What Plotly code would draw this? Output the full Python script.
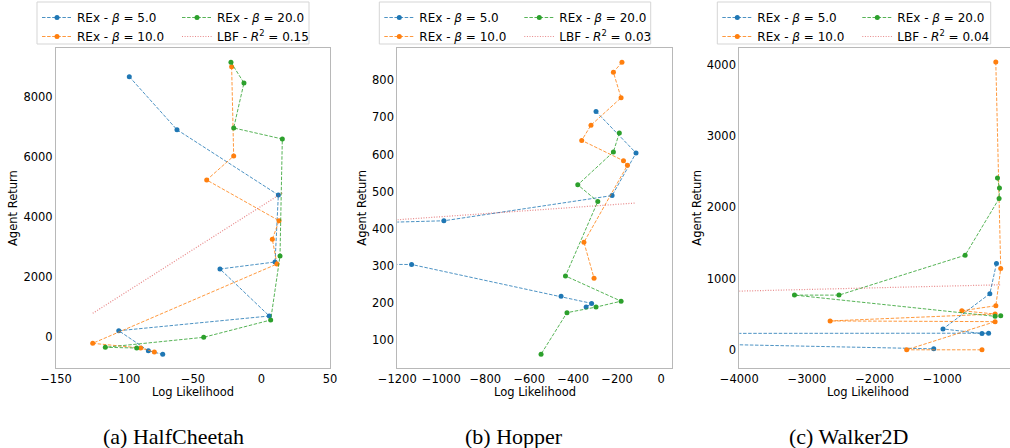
import plotly.graph_objects as go

# ---------------- data ----------------
# (a) HalfCheetah
hc_b5_x = [-96.5, -61.7, 12.3, 9.9, -30.3, 5.7, -104.2, -82.6, -72.1]
hc_b5_y = [8667, 6900, 4723, 2490, 2257, 690, 200, -467, -587]
hc_b10_x = [-21.8, -20.3, -40.0, 12.8, 7.9, 11.3, -123.2, -88.2, -78.2]
hc_b10_y = [9000, 6023, 5223, 3867, 3247, 2423, -220, -377, -510]
hc_b20_x = [-22.3, -12.8, -20.3, 15.2, 13.5, 6.7, -42.2, -114.0, -91.1]
hc_b20_y = [9147, 8457, 6957, 6590, 2690, 557, -20, -353, -377]
hc_lbf_x = [-123.2, 15.4]
hc_lbf_y = [780, 4800]
hc_r2 = "0.15"

# (b) Hopper
hp_b5_x = [-296, -114, -223, -988, -1600, -1600, -1135, -455, -316, -341]
hp_b5_y = [716, 604, 489, 421, 411, 304, 303, 217, 198, 188]
hp_b10_x = [-178, -217, -182, -319, -361, -171, -153, -351, -305]
hp_b10_y = [849, 822, 753, 679, 638, 583, 571, 363, 266]
hp_b20_x = [-190, -217, -379, -288, -435, -182, -296, -428, -546]
hp_b20_y = [658, 607, 518, 473, 272, 204, 188, 173, 61]
hp_lbf_x = [-1600, -114]
hp_lbf_y = [407, 469]
hp_r2 = "0.03"

# (c) Walker2D
wk_b5_x = [-200, -298, -990, -414, -316, -5000, -5000, -1127]
wk_b5_y = [1209, 786, 293, 228, 233, 230, 90, 14]
wk_b10_x = [-210, -137, -209, -712, -220, -2658, -220, -1527, -414]
wk_b10_y = [4037, 1140, 618, 548, 502, 405, 395, 0, 0]
wk_b20_x = [-185, -156, -161, -663, -2527, -3185, -220, -137]
wk_b20_y = [2409, 2270, 2121, 1326, 767, 767, 470, 479]
wk_lbf_x = [-5000, -137]
wk_lbf_y = [800, 912]
wk_r2 = "0.04"

captions = ["(a) HalfCheetah", "(b) Hopper", "(c) Walker2D"]
beta_labels = ["5.0", "10.0", "20.0"]

x_ticks = [[-150, -100, -50, 0, 50],
           [-1200, -1000, -800, -600, -400, -200, 0],
           [-4000, -3000, -2000, -1000, 0]]
y_ticks = [[0, 2000, 4000, 6000, 8000],
           [100, 200, 300, 400, 500, 600, 700, 800],
           [0, 1000, 2000, 3000, 4000]]

# ---------------- style ----------------
W, H = 1010, 448
colors = ["#1f77b4", "#ff7f0e", "#2ca02c"]
line_rgba = ["rgba(31,119,180,0.8)", "rgba(255,127,14,0.8)", "rgba(44,160,44,0.8)"]
lbf_color = "rgba(214,39,40,0.55)"
FONT = "DejaVu Sans"
FS = 11.5
LFS = 12

# plot boxes in pixels: (left, right, top, bottom)
boxes = [(56, 330, 48, 368), (397.3, 672.3, 48, 368), (739.3, 1010, 48, 368)]
x_ranges = [[-150, 50], [-1200, 51], [-4000, 0]]
y_ranges = [[-1043, 9623], [23.6, 887.4], [-255, 4232]]
legend_boxes = [(37, 309), (379.3, 650.7), (717.3, 990.7)]
xtitle_cx = [193, 534.7, 868]
ytitle_cx = [13, 361.7, 696.7]
caption_cx = [173, 514, 848]

panels = [
    ([hc_b5_x, hc_b10_x, hc_b20_x], [hc_b5_y, hc_b10_y, hc_b20_y], hc_lbf_x, hc_lbf_y, hc_r2),
    ([hp_b5_x, hp_b10_x, hp_b20_x], [hp_b5_y, hp_b10_y, hp_b20_y], hp_lbf_x, hp_lbf_y, hp_r2),
    ([wk_b5_x, wk_b10_x, wk_b20_x], [wk_b5_y, wk_b10_y, wk_b20_y], wk_lbf_x, wk_lbf_y, wk_r2),
]

fig = go.Figure()
layout = dict(
    width=W, height=H, template="none",
    margin=dict(l=0, r=0, t=0, b=0, pad=0, autoexpand=False),
    paper_bgcolor="white", plot_bgcolor="white",
    font=dict(family=FONT, size=FS, color="black"),
    showlegend=True,
)
annotations = []
shapes = []

for p, (xs, ys, lx, ly, r2) in enumerate(panels):
    n = p + 1
    xa = "x" if n == 1 else f"x{n}"
    ya = "y" if n == 1 else f"y{n}"
    legA = "legend" if p == 0 else f"legend{2 * p + 1}"
    legB = f"legend{2 * p + 2}"
    for i in range(3):
        fig.add_trace(go.Scatter(
            x=xs[i], y=ys[i], mode="lines+markers",
            name=f"REx - <i>β</i> = {beta_labels[i]}",
            line=dict(color=line_rgba[i], width=1, dash="3.5px,1.6px"),
            marker=dict(color=colors[i], size=5, line=dict(width=0)),
            xaxis=xa, yaxis=ya, legend=legA if i < 2 else legB,
            hoverinfo="skip",
        ))
    fig.add_trace(go.Scatter(
        x=lx, y=ly, mode="lines",
        name=f"LBF - <i>R</i><sup>2</sup> = {r2}",
        line=dict(color=lbf_color, width=1.2, dash="1px,1.6px"),
        xaxis=xa, yaxis=ya, legend=legB, hoverinfo="skip",
    ))

    L, R, T, B = boxes[p]
    axis_common = dict(showgrid=False, zeroline=False, ticks="", automargin=False,
                       showline=True, linecolor="#b8b8b8", linewidth=1,
                       tickfont=dict(family=FONT, size=FS, color="black"))
    layout["xaxis" if n == 1 else f"xaxis{n}"] = dict(
        domain=[L / W, R / W], range=x_ranges[p], anchor=ya,
        tickvals=x_ticks[p], mirror=True, **axis_common)
    layout["yaxis" if n == 1 else f"yaxis{n}"] = dict(
        domain=[1 - B / H, 1 - T / H], range=y_ranges[p], anchor=xa,
        tickvals=y_ticks[p], mirror=(p < 2), **axis_common)

    # legends (two columns)
    bl, br = legend_boxes[p]
    for key, lx0 in ((legA, bl), (legB, bl + 140)):
        layout[key] = dict(
            x=lx0 / W, y=1 - 3 / H, xref="paper", yref="paper",
            xanchor="left", yanchor="top", orientation="v",
            bgcolor="rgba(0,0,0,0)", borderwidth=0, itemwidth=30,
            tracegroupgap=0, font=dict(family=FONT, size=LFS, color="black"),
        )
    x0, x1, y0, y1 = bl / W, br / W, 1 - 2 / H, 1 - 44 / H
    shapes.append(dict(
        type="rect", xref="paper", yref="paper", x0=x0, x1=x1, y0=y1, y1=y0,
        line=dict(color="#d5d5d5", width=1), fillcolor="rgba(255,255,255,0.8)",
        layer="below"))

    annotations.append(dict(text="Log Likelihood", x=xtitle_cx[p] / W, y=1 - 391.5 / H,
                            xref="paper", yref="paper", showarrow=False,
                            xanchor="center", yanchor="middle",
                            font=dict(family=FONT, size=FS, color="black")))
    annotations.append(dict(text="Agent Return", x=ytitle_cx[p] / W, y=1 - 208 / H,
                            xref="paper", yref="paper", showarrow=False, textangle=-90,
                            xanchor="center", yanchor="middle",
                            font=dict(family=FONT, size=FS, color="black")))
    annotations.append(dict(text=captions[p], x=caption_cx[p] / W, y=1 - 436 / H,
                            xref="paper", yref="paper", showarrow=False,
                            xanchor="center", yanchor="middle",
                            font=dict(family="Liberation Serif", size=22, color="black")))

layout["annotations"] = annotations
layout["shapes"] = shapes
fig.update_layout(**layout)
fig.write_html(
    "out.html",
    config={"displayModeBar": False},
    post_script="document.body.style.margin='0';document.body.style.overflow='hidden';",
)
